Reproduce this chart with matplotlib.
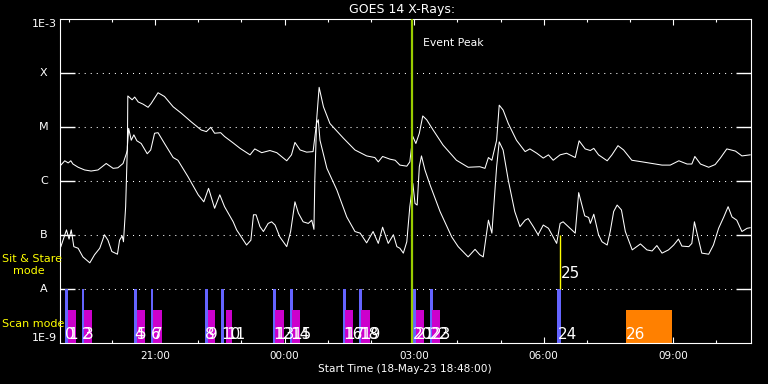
import numpy as np
import matplotlib
matplotlib.use('Agg')
import matplotlib.pyplot as plt

# GOES 14 X-ray flux, hours since 18-May-23 18:48, log10(W/m^2)
long_hours = [0.02, 0.11, 0.19, 0.25, 0.30, 0.42, 0.57, 0.72, 0.88, 1.07, 1.23, 1.34, 1.46, 1.54, 1.56,
              1.57, 1.67, 1.73, 1.81, 1.92, 2.04, 2.11, 2.27, 2.42, 2.62, 2.81, 3.04, 3.27, 3.39, 3.49,
              3.58, 3.72, 3.81, 4.01, 4.17, 4.40, 4.51, 4.67, 4.86, 5.02, 5.25, 5.36, 5.44, 5.56, 5.71,
              5.86, 5.93, 6.00, 6.10, 6.25, 6.56, 6.83, 7.10, 7.29, 7.37, 7.47, 7.64, 7.76, 7.87, 8.03,
              8.10, 8.17, 8.24, 8.32, 8.40, 8.49, 8.64, 8.87, 9.18, 9.45, 9.72, 9.84, 9.92, 10.00, 10.11,
              10.17, 10.26, 10.38, 10.57, 10.77, 10.88, 11.04, 11.19, 11.31, 11.42, 11.58, 11.73, 11.93,
              12.02, 12.16, 12.28, 12.36, 12.47, 12.67, 12.78, 12.92, 13.05, 13.24, 13.48, 13.71, 13.94,
              14.13, 14.33, 14.52, 14.63, 14.70, 14.83, 15.02, 15.17, 15.29, 15.44, 15.64, 15.79, 15.98]
long_logflux = [-5.70, -5.62, -5.66, -5.62, -5.68, -5.74, -5.79, -5.81, -5.79, -5.67, -5.76, -5.75, -5.67, -5.48, -5.42,
                -4.42, -4.49, -4.44, -4.53, -4.57, -4.63, -4.56, -4.36, -4.43, -4.62, -4.74, -4.90, -5.05, -5.08, -5.00,
                -5.11, -5.10, -5.17, -5.29, -5.39, -5.51, -5.40, -5.47, -5.43, -5.47, -5.62, -5.51, -5.28, -5.42, -5.46,
                -5.45, -4.99, -4.26, -4.62, -4.93, -5.20, -5.42, -5.53, -5.56, -5.64, -5.54, -5.59, -5.61, -5.70, -5.72,
                -5.64, -5.17, -5.30, -5.11, -4.79, -4.86, -5.05, -5.33, -5.61, -5.74, -5.73, -5.76, -5.56, -5.61, -5.24,
                -4.59, -4.68, -4.93, -5.24, -5.45, -5.40, -5.48, -5.57, -5.51, -5.61, -5.51, -5.48, -5.56,
                -5.25, -5.40, -5.43, -5.39, -5.51, -5.62, -5.51, -5.34, -5.42, -5.61, -5.64, -5.67, -5.70,
                -5.70, -5.62, -5.68, -5.68, -5.54, -5.68, -5.74, -5.69, -5.57, -5.40, -5.44, -5.53, -5.51]

short_hours = [0.02, 0.07, 0.15, 0.21, 0.26, 0.32, 0.42, 0.53, 0.69, 0.80, 0.92, 1.03, 1.11, 1.20, 1.33,
               1.38, 1.44, 1.47, 1.52, 1.56, 1.59, 1.65, 1.71, 1.78, 1.88, 2.02, 2.10, 2.19, 2.27, 2.42,
               2.62, 2.73, 2.96, 3.20, 3.33, 3.44, 3.58, 3.70, 3.81, 4.01, 4.09, 4.32, 4.42, 4.48, 4.54,
               4.63, 4.71, 4.82, 4.90, 4.98, 5.09, 5.25, 5.34, 5.44, 5.52, 5.63, 5.75, 5.83, 5.88, 5.90,
               5.94, 5.98, 6.02, 6.18, 6.41, 6.64, 6.83, 6.95, 7.10, 7.25, 7.37, 7.47, 7.60, 7.72, 7.80,
               7.87, 7.95, 8.03, 8.10, 8.17, 8.22, 8.27, 8.32, 8.37, 8.45, 8.57, 8.80, 9.07, 9.22, 9.45,
               9.61, 9.72, 9.80, 9.92, 10.00, 10.11, 10.17, 10.26, 10.38, 10.53, 10.65, 10.77, 10.84, 10.96,
               11.07, 11.19, 11.31, 11.50, 11.58, 11.65, 11.77, 11.93, 12.01, 12.15, 12.24, 12.28, 12.36,
               12.47, 12.55, 12.67, 12.74, 12.82, 12.90, 13.00, 13.09, 13.25, 13.44, 13.59, 13.71, 13.82,
               13.94, 14.09, 14.21, 14.32, 14.40, 14.56, 14.63, 14.69, 14.75, 14.86, 15.02, 15.13, 15.25,
               15.37, 15.47, 15.56, 15.67, 15.79, 15.91, 15.98]
short_logflux = [-7.21, -7.09, -6.90, -7.07, -6.90, -7.21, -7.24, -7.40, -7.51, -7.36, -7.24, -6.99, -7.09, -7.30, -7.35,
                 -7.09, -7.01, -7.12, -6.47, -5.36, -5.02, -5.24, -5.14, -5.25, -5.30, -5.49, -5.42, -5.11, -5.10, -5.30,
                 -5.56, -5.61, -5.91, -6.25, -6.38, -6.13, -6.50, -6.25, -6.47, -6.75, -6.90, -7.18, -7.09, -6.62, -6.62,
                 -6.84, -6.93, -6.78, -6.75, -6.81, -7.03, -7.21, -6.93, -6.38, -6.59, -6.75, -6.78, -6.72, -6.89, -5.98,
                 -4.93, -4.86, -5.24, -5.76, -6.16, -6.66, -6.93, -6.96, -7.14, -6.93, -7.15, -6.85, -7.15, -6.99, -7.21,
                 -7.24, -7.33, -7.12, -6.47, -6.04, -6.41, -6.44, -5.73, -5.53, -5.79, -6.07, -6.56, -7.03, -7.21, -7.40,
                 -7.26, -7.36, -7.40, -6.72, -6.96, -5.73, -5.27, -5.42, -5.98, -6.56, -6.84, -6.72, -6.69, -6.84,
                 -6.99, -6.81, -6.87, -7.15, -6.78, -6.75, -6.84, -6.96, -6.21, -6.64, -6.67, -6.78, -6.61,
                 -6.99, -7.12, -7.18, -6.93, -6.56, -6.44, -6.53, -6.93, -7.27, -7.16, -7.27, -7.29, -7.19,
                 -7.33, -7.27, -7.18, -7.07, -7.20, -7.21, -7.15, -6.75, -6.96, -7.33, -7.35, -7.18, -6.87,
                 -6.66, -6.47, -6.66, -6.72, -6.93, -6.87, -6.86]

# observation blocks (hours since start)
blue_start = [0.12, 0.51, 1.71, 2.11, 3.36, 3.73, 4.93, 5.33, 6.55, 6.92, 8.17, 8.57]
blue_end = [0.19, 0.56, 1.78, 2.15, 3.43, 3.80, 5.00, 5.39, 6.62, 6.99, 8.24, 8.64]
magenta_start = [0.19, 0.56, 1.78, 2.15, 3.43, 3.84, 4.98, 5.37, 6.60, 6.97, 8.24, 8.61]
magenta_end = [0.37, 0.74, 1.97, 2.36, 3.59, 3.98, 5.19, 5.56, 6.78, 7.18, 8.43, 8.80]
sit_stare_start, sit_stare_end = 11.51, 11.60   # event 24
sit_stare_line = 11.58                          # event 25
orange_start, orange_end = 13.10, 14.17         # event 26
event_peak = 8.15

major_ticks = [2.2, 5.2, 8.2, 11.2, 14.2]
major_labels = ['21:00', '00:00', '03:00', '06:00', '09:00']
minor_ticks = [0.2 + k for k in range(16)]
level_flux = [1e-4, 1e-5, 1e-6, 1e-7, 1e-8]
level_names = ['X', 'M', 'C', 'B', 'A']

BLUE = '#6464ff'
MAGENTA = '#cc00cc'
ORANGE = '#ff8000'
GREEN = '#99cc00'

fig = plt.figure(figsize=(7.68, 3.84), dpi=100, facecolor='black')
ax = fig.add_axes([60/768, 1 - 343.3/384, 691/768, 324/384], facecolor='black')
ax.set_yscale('log')
ax.set_xlim(0, 16)
ax.set_ylim(1e-9, 1e-3)

# gridlines at the flare class levels
for f in level_flux:
    ax.axhline(f, color='white', lw=0.75, ls=(0, (1, 4.8)), zorder=1)

# scan mode bars
for i in range(len(blue_start)):
    ax.bar(blue_start[i], 1e-8 - 1e-9, bottom=1e-9, width=blue_end[i] - blue_start[i],
           align='edge', color=BLUE, lw=0, zorder=2)
    ax.bar(magenta_start[i], 4.1e-9 - 1e-9, bottom=1e-9, width=magenta_end[i] - magenta_start[i],
           align='edge', color=MAGENTA, lw=0, zorder=2)
    ax.text(blue_start[i], 1.2e-9, str(2 * i), color='white', fontsize=11,
            ha='left', va='baseline', zorder=5)
    ax.text(magenta_start[i], 1.2e-9, str(2 * i + 1), color='white', fontsize=11,
            ha='left', va='baseline', zorder=5)

ax.bar(sit_stare_start, 1e-8 - 1e-9, bottom=1e-9, width=sit_stare_end - sit_stare_start,
       align='edge', color=BLUE, lw=0, zorder=2)
ax.text(sit_stare_start + 0.02, 1.2e-9, '24', color='white', fontsize=11, ha='left', va='baseline', zorder=5)
ax.vlines(sit_stare_line, 1e-8, 1e-7, color='yellow', lw=1, zorder=3)
ax.text(sit_stare_line + 0.02, 1.6e-8, '25', color='white', fontsize=11, ha='left', va='baseline', zorder=5)
ax.bar(orange_start, 4.1e-9 - 1e-9, bottom=1e-9, width=orange_end - orange_start,
       align='edge', color=ORANGE, lw=0, zorder=2)
ax.text(orange_start, 1.2e-9, '26', color='white', fontsize=11, ha='left', va='baseline', zorder=5)

# x-ray curves
ax.plot(long_hours, 10 ** np.array(long_logflux), color='white', lw=0.75, zorder=4)
ax.plot(short_hours, 10 ** np.array(short_logflux), color='white', lw=0.75, zorder=4)

ax.axvline(event_peak, color=GREEN, lw=1.6, zorder=4)
ax.text(event_peak + 0.25, 3.6e-4, 'Event Peak', color='white', fontsize=7.8, va='center', ha='left')

# axes styling
for s in ax.spines.values():
    s.set_color('white')
    s.set_linewidth(0.8)
ax.set_xticks(major_ticks)
ax.set_xticklabels(major_labels)
ax.set_xticks(minor_ticks, minor=True)
ax.tick_params(axis='x', which='both', direction='in', top=True, bottom=True, colors='white',
               labelsize=7.5, pad=5.5, width=0.8)
ax.tick_params(axis='x', which='major', length=4.3)
ax.tick_params(axis='x', which='minor', length=2.2)
ax.set_yticks(level_flux)
ax.yaxis.set_minor_locator(matplotlib.ticker.NullLocator())
ax.tick_params(axis='y', which='major', direction='in', left=True, right=True, length=10.5,
               width=1.0, colors='white', labelleft=False)

ytr = ax.get_yaxis_transform()
for f, name in zip(level_flux, level_names):
    ax.text(-0.0232, f, name, transform=ytr, color='white', fontsize=8, ha='center', va='center')
ax.text(-0.0045, 1e-3, '1E-3', transform=ytr, color='white', fontsize=8, ha='right', va='top')
ax.text(-0.0045, 1e-9, '1E-9', transform=ytr, color='white', fontsize=8, ha='right', va='bottom')

fig.text(402/768, 1 - 10/384, 'GOES 14 X-Rays:', color='white', fontsize=9, ha='center', va='center')
fig.text(405/768, 1 - 368.5/384, 'Start Time (18-May-23 18:48:00)', color='white', fontsize=7.6,
         ha='center', va='center')
fig.text(2/768, 1 - 259/384, 'Sit & Stare', color='yellow', fontsize=8, ha='left', va='center')
fig.text(13/768, 1 - 271/384, 'mode', color='yellow', fontsize=8, ha='left', va='center')
fig.text(2/768, 1 - 324/384, 'Scan mode', color='yellow', fontsize=8, ha='left', va='center')

fig.savefig('out.png', dpi=100, facecolor='black')
